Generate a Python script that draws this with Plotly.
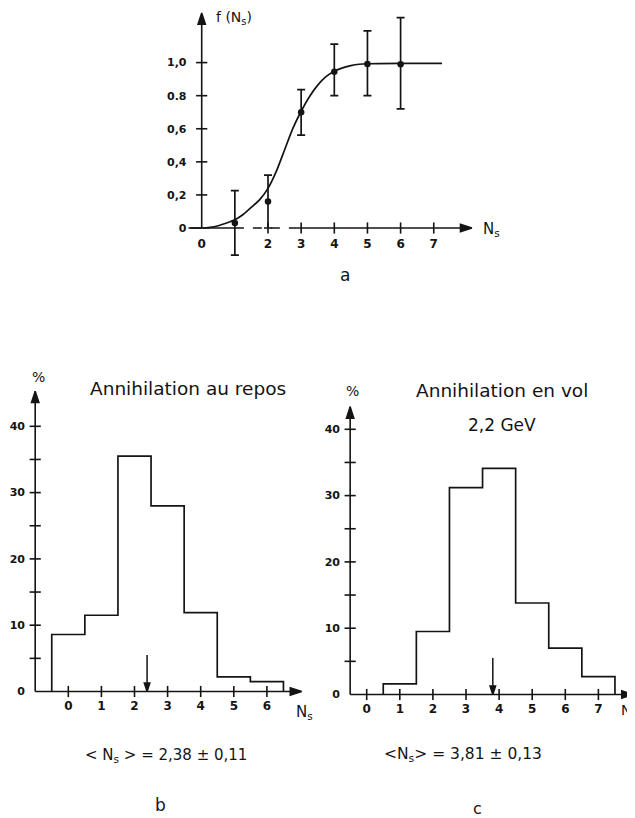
import plotly.graph_objects as go

W, H = 635, 818
OFF = 8  # page body margin of the html page

# ---------------- data ----------------
# panel a : f(Ns)
a_ns = [1, 2, 3, 4, 5, 6]
a_f = [0.03, 0.16, 0.70, 0.945, 0.992, 0.99]
a_err_hi = [0.226, 0.32, 0.836, 1.112, 1.192, 1.272]
a_err_lo = [-0.164, 0.0, 0.562, 0.80, 0.80, 0.72]
curve_x = [-0.35, 0.0, 0.25, 0.5, 0.75, 1.0, 1.25, 1.5, 1.75, 2.0, 2.25, 2.5, 2.75, 3.0,
           3.25, 3.5, 3.75, 4.0, 4.25, 4.5, 4.75, 5.0, 6.0, 7.25]
curve_y = [0.0, 0.0, 0.004, 0.014, 0.03, 0.05, 0.082, 0.126, 0.172, 0.24, 0.342, 0.472, 0.602,
           0.706, 0.794, 0.864, 0.915, 0.948, 0.968, 0.982, 0.99, 0.993, 0.995, 0.995]

a_xlabel_vals = [0, 2, 3, 4, 5, 6, 7]
a_xlabel_text = ["0", "2", "3", "4", "5", "6", "7"]
a_xtick_vals = [2, 3, 4, 5, 6, 7]
a_ylabel_vals = [0, 0.2, 0.4, 0.6, 0.8, 1.0]
a_ylabel_text = ["0", "0,2", "0,4", "0,6", "0.8", "1,0"]
a_ytick_vals = [0.2, 0.4, 0.6, 0.8, 1.0]

# panel b : annihilation au repos
b_ns = [0, 1, 2, 3, 4, 5, 6]
b_pct = [8.6, 11.5, 35.5, 28.0, 11.9, 2.2, 1.5]
b_mean = 2.38
b_mean_text = "&lt; N<sub>s</sub> &gt; = 2,38 ± 0,11"

# panel c : annihilation en vol 2,2 GeV
c_ns = [1, 2, 3, 4, 5, 6, 7]
c_pct = [1.6, 9.5, 31.2, 34.1, 13.8, 7.0, 2.7]
c_mean = 3.81
c_mean_text = "&lt;N<sub>s</sub>&gt; = 3,81 ± 0,13"

b_xlabel_vals = [0, 1, 2, 3, 4, 5, 6]
c_xlabel_vals = [0, 1, 2, 3, 4, 5, 6, 7]
h_ylabel_vals = [0, 10, 20, 30, 40]
h_ytick_vals = [5, 10, 15, 20, 25, 30, 35, 40]

INK = "#141414"
FONT = "DejaVu Sans"


def fx(px):
    return (px - OFF) / W


def fy(py):
    return 1 - (py - OFF) / H


def step_xy(centers, vals):
    xs = [centers[0] - 0.5]
    ys = [0]
    for c, v in zip(centers, vals):
        xs.append(c - 0.5)
        ys.append(v)
    xs += [centers[-1] + 0.5, centers[-1] + 0.5]
    ys += [vals[-1], 0]
    return xs, ys


fig = go.Figure()

# ---------------- geometry (pixels in the reference) ----------------
panels = {
    1: dict(x0=201.7, xu=33.15, y0=227.7, yu=166.7, xr=[-0.45, 8.3], yr=[-0.25, 1.33], yx=0.0,
            xl=5, yl=13),
    2: dict(x0=68.3, xu=33.1, y0=691.5, yu=6.63, xr=[-1.2, 7.4], yr=[-3, 47], yx=-1.0,
            xl=3, yl=8),
    3: dict(x0=366.7, xu=33.1, y0=694.5, yu=6.63, xr=[-0.7, 8.08], yr=[-3, 47], yx=-0.5,
            xl=3, yl=8),
}

label_specs = {
    1: dict(xv=a_xlabel_vals, xt=a_xlabel_text, xtk=a_xtick_vals,
            yv=a_ylabel_vals, yt=a_ylabel_text, ytk=a_ytick_vals),
    2: dict(xv=b_xlabel_vals, xt=[str(v) for v in b_xlabel_vals], xtk=b_xlabel_vals,
            yv=h_ylabel_vals, yt=[str(v) for v in h_ylabel_vals], ytk=h_ytick_vals),
    3: dict(xv=c_xlabel_vals, xt=[str(v) for v in c_xlabel_vals], xtk=c_xlabel_vals,
            yv=h_ylabel_vals, yt=[str(v) for v in h_ylabel_vals], ytk=h_ytick_vals),
}

layout = {}
for n, g in panels.items():
    xd = [max(0, fx(g["x0"] + g["xr"][0] * g["xu"])), min(1, fx(g["x0"] + g["xr"][1] * g["xu"]))]
    yd = [max(0, fy(g["y0"] - g["yr"][0] * g["yu"])), min(1, fy(g["y0"] - g["yr"][1] * g["yu"]))]
    s = label_specs[n]
    xk = "xaxis" if n == 1 else f"xaxis{n}"
    yk = "yaxis" if n == 1 else f"yaxis{n}"
    base = dict(showgrid=False, zeroline=False, showline=False, fixedrange=True,
                tickcolor="rgba(0,0,0,0)", ticks="outside", tickmode="array")
    layout[xk] = dict(base, domain=xd, range=g["xr"], anchor="free", position=fy(g["y0"]),
                      ticklen=g["xl"], tickvals=s["xv"], ticktext=s["xt"],
                      tickfont=dict(family=FONT, size=12, color=INK, weight="bold"))
    layout[yk] = dict(base, domain=yd, range=g["yr"], anchor="free",
                      position=fx(g["x0"] + g["yx"] * g["xu"]),
                      ticklen=g["yl"], tickvals=s["yv"], ticktext=s["yt"],
                      tickfont=dict(family=FONT, size=11, color=INK, weight="bold"))

    xr_ = "x" if n == 1 else f"x{n}"
    yr_ = "y" if n == 1 else f"y{n}"
    # crossing tick marks on both axes
    fig.add_trace(go.Scatter(x=s["xtk"], y=[0] * len(s["xtk"]), mode="markers",
                             marker=dict(symbol="line-ns", size=8, line=dict(color=INK, width=1.6)),
                             xaxis=xr_, yaxis=yr_, cliponaxis=False, hoverinfo="skip"))
    fig.add_trace(go.Scatter(x=[g["yx"]] * len(s["ytk"]), y=s["ytk"], mode="markers",
                             marker=dict(symbol="line-ew", size=8, line=dict(color=INK, width=1.6)),
                             xaxis=xr_, yaxis=yr_, cliponaxis=False, hoverinfo="skip"))


def arrow_line(xr_, yr_, x0, y0, x1, y1, width=1.6, head=12):
    fig.add_trace(go.Scatter(x=[x0, x1], y=[y0, y1], mode="lines+markers",
                             line=dict(color=INK, width=width),
                             marker=dict(symbol="arrow", size=[0, head], angleref="previous",
                                         color=INK, opacity=1, line=dict(width=1.5, color=INK)),
                             xaxis=xr_, yaxis=yr_, cliponaxis=False, hoverinfo="skip"))


# ---------------- axes ----------------
shapes = []
shapes.append(dict(type="line", xref="x", yref="y", x0=-0.4, x1=1.0, y0=0, y1=0,
                   line=dict(color=INK, width=1.6)))
shapes.append(dict(type="line", xref="x", yref="y", x0=1.0, x1=2.95, y0=0, y1=0,
                   line=dict(color=INK, width=1.4, dash="dash")))
arrow_line("x", "y", 2.9, 0, 8.15, 0)
arrow_line("x", "y", 0, 0, 0, 1.3)
arrow_line("x2", "y2", -1.0, 0, 7.05, 0)
arrow_line("x2", "y2", -1.0, 0, -1.0, 45.3)
arrow_line("x3", "y3", -0.5, 0, 8.05, 0)
arrow_line("x3", "y3", -0.5, 0, -0.5, 43.4)

# ---------------- data traces ----------------
fig.add_trace(go.Scatter(x=curve_x, y=curve_y, mode="lines",
                         line=dict(color=INK, width=1.7, shape="spline", smoothing=0.7),
                         xaxis="x", yaxis="y", hoverinfo="skip"))
fig.add_trace(go.Scatter(
    x=a_ns, y=a_f, mode="markers", marker=dict(color=INK, size=6.5),
    error_y=dict(type="data", symmetric=False,
                 array=[h - f for h, f in zip(a_err_hi, a_f)],
                 arrayminus=[f - l for f, l in zip(a_f, a_err_lo)],
                 color=INK, thickness=1.7, width=4),
    xaxis="x", yaxis="y", cliponaxis=False))

bx, by = step_xy(b_ns, b_pct)
fig.add_trace(go.Scatter(x=bx, y=by, mode="lines", line=dict(color=INK, width=1.7, shape="hv"),
                         xaxis="x2", yaxis="y2"))
cx, cy = step_xy(c_ns, c_pct)
fig.add_trace(go.Scatter(x=cx, y=cy, mode="lines", line=dict(color=INK, width=1.7, shape="hv"),
                         xaxis="x3", yaxis="y3"))

# mean markers
arrow_line("x2", "y2", b_mean, 5.5, b_mean, 0, width=1.5, head=9)
arrow_line("x3", "y3", c_mean, 5.5, c_mean, 0, width=1.5, head=9)

# ---------------- texts ----------------
ann = []


def text(t, px, py, size, xanchor="center"):
    ann.append(dict(text=t, x=fx(px), y=fy(py), xref="paper", yref="paper", showarrow=False,
                    xanchor=xanchor, yanchor="middle", font=dict(family=FONT, size=size, color=INK)))


text("f (N<sub>s</sub>)", 214, 18, 14, "left")
text("N<sub>s</sub>", 481, 230, 15, "left")
text("a", 345, 275, 17)
text("%", 38, 377, 14)
text("Annihilation au repos", 188, 388, 18.5)
text("%", 352, 391, 14)
text("Annihilation en vol", 502, 390, 18.5)
text("2,2 GeV", 502, 425, 17)
text("N<sub>s</sub>", 294, 712, 15, "left")
text("N<sub>s</sub>", 619, 711, 14, "left")
text(b_mean_text, 166, 755, 15)
text(c_mean_text, 463, 755, 15.5)
text("b", 160, 805, 17)
text("c", 477, 808, 16)

fig.update_layout(
    width=W, height=H, margin=dict(l=0, r=0, t=0, b=0, autoexpand=False),
    paper_bgcolor="white", plot_bgcolor="rgba(0,0,0,0)",
    showlegend=False, annotations=ann, shapes=shapes, **layout)

fig.write_html("out.html")
